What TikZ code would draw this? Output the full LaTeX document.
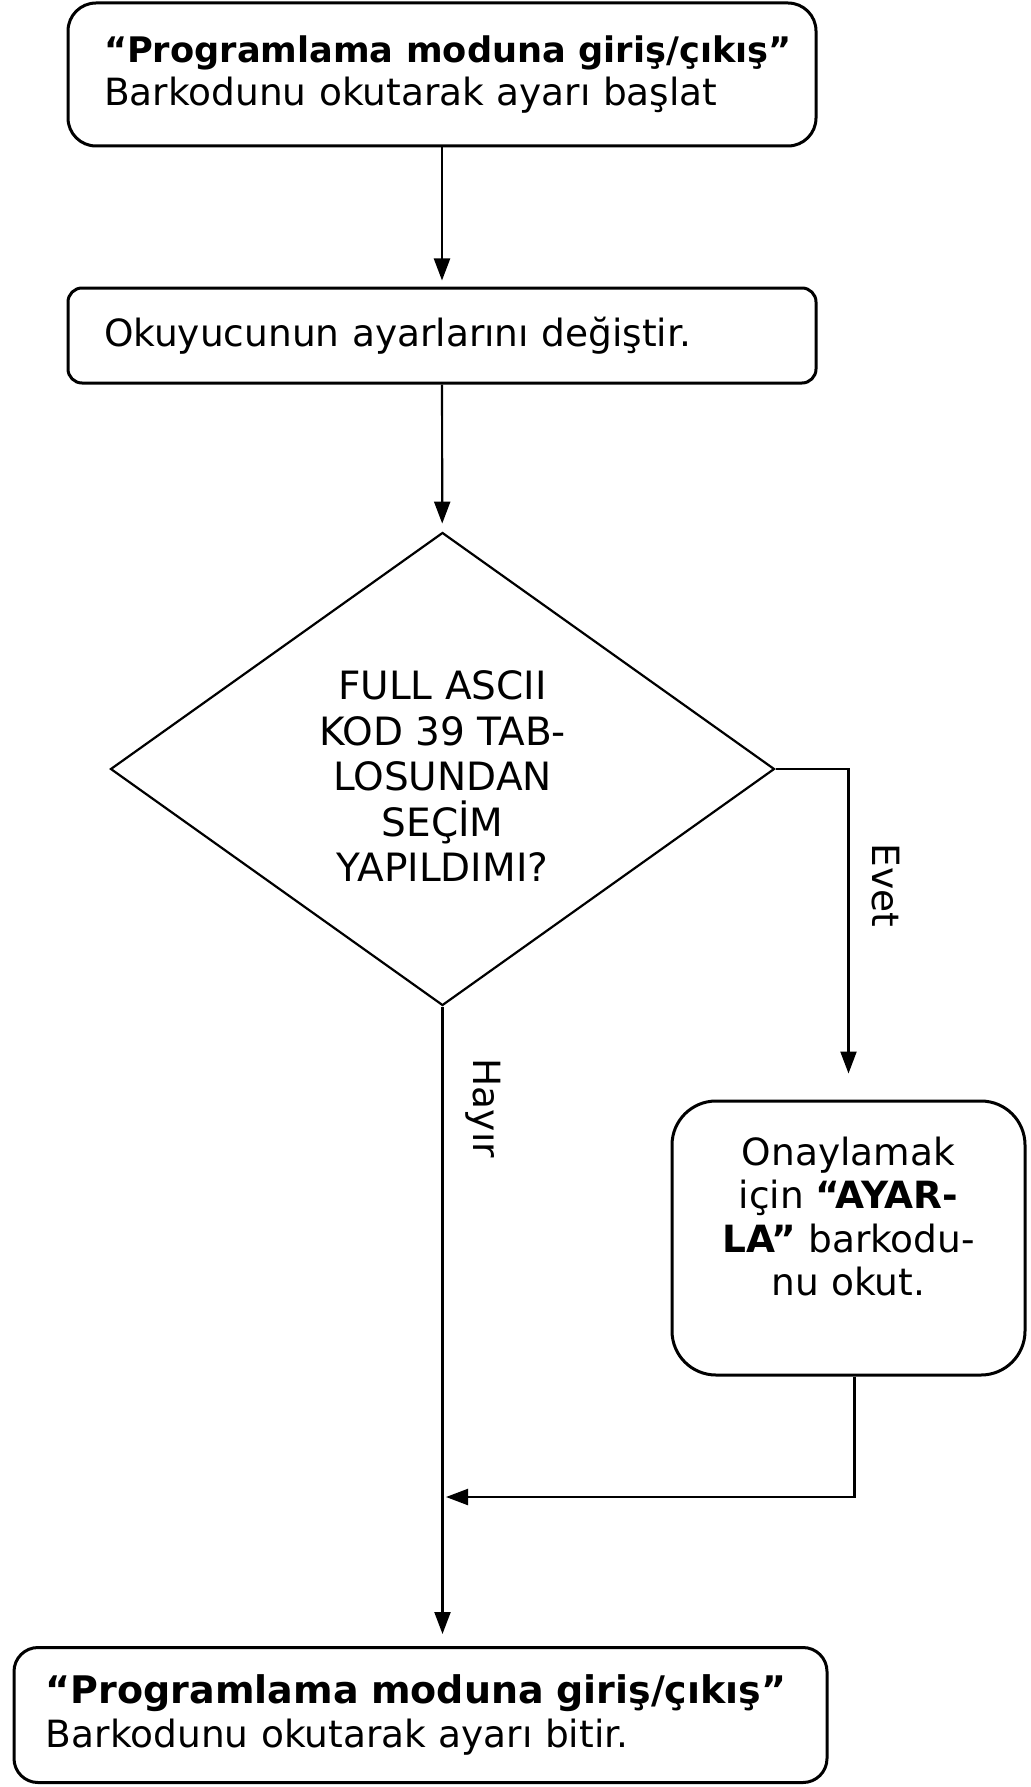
\documentclass[tikz,border=0pt]{standalone}
\usepackage{fontspec}
\setmainfont{DejaVu Sans}
\usetikzlibrary{shapes.geometric,arrows.meta}

\begin{document}
\begin{tikzpicture}[x=0.5pt, y=-0.5pt,
  box/.style = {draw, line width=1.5pt, align=left, inner xsep=18pt, font=\fontsize{18.75}{21.75}\selectfont},
  cond/.style = {draw, diamond, aspect=1.4, inner sep=0pt, line width=1.1pt, align=center, font=\fontsize{19.5}{22.75}\selectfont},
  flow/.style = {line width=1.1pt, -{Triangle[length=11pt,width=8pt]}},
  lbl/.style = {rotate=-90, anchor=south, inner sep=11pt, font=\fontsize{18.75}{21.75}\selectfont}]
\useasboundingbox (0,0) rectangle (1030,1787);
% boxes
\node[box, rounded corners=14pt, minimum width=374pt, minimum height=71.5pt, text width=338pt] (start) at (442,74.5)
  {\mbox{\fontsize{17.6}{21.75}\selectfont\bfseries “Programlama moduna giriş/çıkış”}\\ \mbox{Barkodunu okutarak ayarı başlat}};
\node[box, rounded corners=7pt, minimum width=374pt, minimum height=47.5pt, text width=338pt] (change) at (442,335.5)
  {Okuyucunun ayarlarını değiştir.};
\node[cond, minimum width=332pt, minimum height=236.5pt] (ascii) at (442.5,769)
  {\mbox{}\\[-1pt] FULL ASCII\\ KOD 39 TAB-\\ LOSUNDAN\\ SEÇİM\\ YAPILDIMI?};
\node[box, align=center, rounded corners=22pt, minimum width=176.5pt, minimum height=137pt] (confirm) at (848.5,1238)
  {Onaylamak\\ için \textbf{“AYAR-}\\ \textbf{LA”} barkodu-\\ nu okut.\\ \mbox{}};
\node[box, inner xsep=16pt, rounded corners=12pt, minimum width=406.5pt, minimum height=67.5pt, text width=374.5pt] (finish) at (420.5,1715)
  {\mbox{\fontsize{19}{21.75}\selectfont\bfseries “Programlama moduna giriş/çıkış”}\\ \mbox{Barkodunu okutarak ayarı bitir.}};
\coordinate (join) at (442,1497);
% connectors
\draw[flow, shorten >=3pt] (start) -- (change);
\draw[flow, shorten >=4pt] (change) -- (ascii);
\draw[flow, shorten >=13pt] (ascii.east) -| node[lbl, pos=0.676] {Evet} (confirm.north);
\draw[flow, shorten >=6pt] (ascii.south) -- node[lbl, pos=0.159] {Hayır} (finish.north -| ascii.south);
\draw[flow, shorten >=2pt] ([xshift=3pt]confirm.south) |- (join);
\end{tikzpicture}
\end{document}
